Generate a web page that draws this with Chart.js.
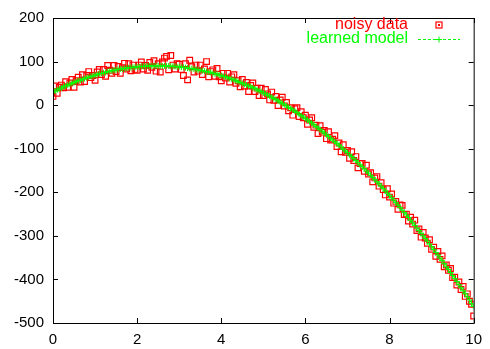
<!DOCTYPE html>
<html>
<head>
<meta charset="utf-8">
<script src="https://cdn.jsdelivr.net/npm/chart.js@4.4.0/dist/chart.umd.min.js"></script>
<style>
  html, body { margin: 0; padding: 0; background: #fff; }
  canvas { display: block; }
</style>
</head>
<body>
<canvas id="myChart" width="490" height="349"></canvas>
<script>
// x positions shared by both series
const xs = [
  0, 0.05, 0.1, 0.15, 0.2, 0.25, 0.3, 0.35, 0.4, 0.45, 0.5, 0.55, 0.6, 0.65, 0.7, 0.75, 0.8, 0.85, 0.9, 0.95,
  1, 1.05, 1.1, 1.15, 1.2, 1.25, 1.3, 1.35, 1.4, 1.45, 1.5, 1.55, 1.6, 1.65, 1.7, 1.75, 1.8, 1.85, 1.9, 1.95,
  2, 2.05, 2.1, 2.15, 2.2, 2.25, 2.3, 2.35, 2.4, 2.45, 2.5, 2.55, 2.6, 2.65, 2.7, 2.75, 2.8, 2.85, 2.9, 2.95,
  3, 3.05, 3.1, 3.15, 3.2, 3.25, 3.3, 3.35, 3.4, 3.45, 3.5, 3.55, 3.6, 3.65, 3.7, 3.75, 3.8, 3.85, 3.9, 3.95,
  4, 4.05, 4.1, 4.15, 4.2, 4.25, 4.3, 4.35, 4.4, 4.45, 4.5, 4.55, 4.6, 4.65, 4.7, 4.75, 4.8, 4.85, 4.9, 4.95,
  5, 5.05, 5.1, 5.15, 5.2, 5.25, 5.3, 5.35, 5.4, 5.45, 5.5, 5.55, 5.6, 5.65, 5.7, 5.75, 5.8, 5.85, 5.9, 5.95,
  6, 6.05, 6.1, 6.15, 6.2, 6.25, 6.3, 6.35, 6.4, 6.45, 6.5, 6.55, 6.6, 6.65, 6.7, 6.75, 6.8, 6.85, 6.9, 6.95,
  7, 7.05, 7.1, 7.15, 7.2, 7.25, 7.3, 7.35, 7.4, 7.45, 7.5, 7.55, 7.6, 7.65, 7.7, 7.75, 7.8, 7.85, 7.9, 7.95,
  8, 8.05, 8.1, 8.15, 8.2, 8.25, 8.3, 8.35, 8.4, 8.45, 8.5, 8.55, 8.6, 8.65, 8.7, 8.75, 8.8, 8.85, 8.9, 8.95,
  9, 9.05, 9.1, 9.15, 9.2, 9.25, 9.3, 9.35, 9.4, 9.45, 9.5, 9.55, 9.6, 9.65, 9.7, 9.75, 9.8, 9.85, 9.9, 9.95,
  10
];

const noisyData = [
  20, 44, 27, 41, 46, 40, 54, 41, 51, 59, 41, 56, 64, 53, 70, 54, 68, 77, 63, 68,
  57, 76, 82, 70, 82, 66, 91, 80, 73, 91, 77, 89, 73, 86, 96, 83, 95, 79, 92, 82,
  80, 92, 99, 83, 91, 80, 98, 87, 102, 78, 95, 76, 99, 108, 112, 81, 114, 92, 83, 95,
  94, 82, 68, 95, 58, 103, 88, 76, 92, 78, 92, 70, 83, 100, 65, 77, 81, 66, 84, 65,
  56, 73, 62, 73, 53, 65, 70, 50, 56, 42, 59, 44, 52, 31, 45, 51, 31, 39, 22, 39,
  22, 36, 26, 12, 30, 11, 20, -1, 12, 18, -2, 6, -13, -6, -23, -8, -6, -26, -15, -29,
  -23, -44, -34, -29, -51, -46, -65, -47, -62, -58, -77, -61, -80, -78, -70, -95, -87, -107, -91, -108,
  -104, -122, -107, -127, -118, -144, -134, -134, -152, -138, -158, -155, -176, -167, -164, -186, -178, -194, -206, -192,
  -211, -204, -225, -221, -239, -229, -230, -251, -250, -266, -257, -273, -264, -288, -284, -303, -292, -305, -317, -309,
  -331, -326, -347, -336, -354, -346, -371, -367, -379, -375, -396, -395, -413, -406, -423, -416, -439, -433, -450, -457,
  -484
];

const learnedModel = [
  30, 32, 35, 37, 39, 42, 44, 46, 48, 50, 52, 54, 56, 57, 59, 61, 63, 64, 66, 67,
  69, 70, 72, 73, 74, 75, 77, 78, 79, 80, 81, 82, 83, 83, 84, 85, 86, 86, 87, 87,
  88, 88, 89, 89, 89, 90, 90, 90, 90, 90, 90, 90, 90, 90, 90, 90, 89, 89, 89, 88,
  88, 87, 87, 86, 85, 84, 84, 83, 82, 81, 80, 79, 78, 77, 76, 75, 73, 72, 71, 69,
  68, 66, 65, 63, 61, 60, 58, 56, 54, 52, 50, 48, 46, 44, 42, 40, 38, 35, 33, 31,
  28, 26, 23, 21, 18, 15, 13, 10, 7, 4, 1, -2, -5, -8, -11, -14, -17, -21, -24, -27,
  -31, -34, -38, -41, -45, -49, -52, -56, -60, -64, -68, -72, -76, -80, -84, -88, -92, -96, -101, -105,
  -109, -114, -118, -123, -127, -132, -137, -141, -146, -151, -156, -161, -166, -171, -176, -181, -186, -191, -197, -202,
  -207, -213, -218, -224, -229, -235, -241, -246, -252, -258, -264, -270, -276, -282, -288, -294, -300, -306, -312, -319,
  -325, -331, -338, -344, -351, -357, -364, -371, -377, -384, -391, -398, -405, -412, -419, -426, -433, -440, -447, -455,
  -462
];

const xTicks = [0, 2, 4, 6, 8, 10];
const yTicks = [-500, -400, -300, -200, -100, 0, 100, 200];
const legendLabels = ['noisy data', 'learned model'];

const RED = '#ff0000';
const GREEN = '#00ff00';
const FONT = '"Liberation Sans", Arial, Helvetica, sans-serif';

// frame with inward ticks on all four sides + gnuplot style key
const gnuFrame = {
  id: 'gnuFrame',
  afterDatasetsDraw(chart) {
    const { ctx, chartArea: a, scales: { x, y } } = chart;
    ctx.save();
    ctx.strokeStyle = '#000';
    ctx.lineWidth = 1;
    ctx.strokeRect(a.left + 0.5, a.top + 0.5, a.right - a.left, a.bottom - a.top);
    ctx.beginPath();
    xTicks.forEach(v => {
      const px = Math.round(x.getPixelForValue(v)) + 0.5;
      ctx.moveTo(px, a.bottom); ctx.lineTo(px, a.bottom - 5);
      ctx.moveTo(px, a.top); ctx.lineTo(px, a.top + 5);
    });
    yTicks.forEach(v => {
      const py = Math.round(y.getPixelForValue(v)) + 0.5;
      ctx.moveTo(a.left, py); ctx.lineTo(a.left + 5, py);
      ctx.moveTo(a.right, py); ctx.lineTo(a.right - 5, py);
    });
    ctx.stroke();

    // key
    ctx.font = '16px ' + FONT;
    ctx.textAlign = 'right';
    ctx.textBaseline = 'middle';
    ctx.fillStyle = RED;
    ctx.fillText(legendLabels[0], 408, 25);
    ctx.fillStyle = GREEN;
    ctx.fillText(legendLabels[1], 408, 39);

    ctx.strokeStyle = RED;
    ctx.lineWidth = 1.2;
    ctx.strokeRect(436, 22, 6, 6);
    ctx.fillStyle = RED;
    ctx.fillRect(438, 24, 2, 2);

    ctx.strokeStyle = GREEN;
    ctx.lineWidth = 1;
    ctx.setLineDash([3, 2]);
    ctx.beginPath();
    ctx.moveTo(418, 39.5); ctx.lineTo(460, 39.5);
    ctx.stroke();
    ctx.setLineDash([]);
    ctx.beginPath();
    ctx.moveTo(436, 39.5); ctx.lineTo(442, 39.5);
    ctx.moveTo(439, 36.5); ctx.lineTo(439, 42.5);
    ctx.stroke();
    ctx.restore();
  }
};

const ctx = document.getElementById('myChart').getContext('2d');
new Chart(ctx, {
  type: 'scatter',
  data: {
    datasets: [
      {
        label: legendLabels[0],
        data: xs.map((x, i) => ({ x: x, y: noisyData[i] })),
        pointStyle: 'rect',
        pointRadius: 4,
        pointBorderWidth: 1.2,
        pointBorderColor: RED,
        pointBackgroundColor: 'rgba(0,0,0,0)',
        showLine: false,
        order: 2,
      },
      {
        label: legendLabels[1],
        data: xs.map((x, i) => ({ x: x, y: learnedModel[i] })),
        showLine: true,
        borderColor: GREEN,
        borderWidth: 1,
        borderDash: [3, 2],
        pointStyle: 'cross',
        pointRadius: 3,
        pointBorderWidth: 1,
        pointBorderColor: GREEN,
        order: 1,
      },
    ],
  },
  options: {
    responsive: false,
    animation: false,
    events: [],
    layout: { padding: { top: 12, right: 11, left: 0, bottom: 0 } },
    plugins: {
      legend: { display: false },
      tooltip: { enabled: false },
    },
    scales: {
      x: {
        type: 'linear',
        min: 0,
        max: 10,
        grid: { display: false, drawTicks: false },
        border: { display: false },
        afterBuildTicks: s => { s.ticks = xTicks.map(v => ({ value: v })); },
        afterFit: s => { s.height = 26; },
        ticks: {
          color: '#000',
          padding: 8,
          maxRotation: 0,
          font: { family: FONT, size: 15 },
        },
      },
      y: {
        type: 'linear',
        min: -500,
        max: 200,
        grid: { display: false, drawTicks: false },
        border: { display: false },
        afterBuildTicks: s => { s.ticks = yTicks.map(v => ({ value: v })); },
        afterFit: s => { s.width = 53; },
        ticks: {
          color: '#000',
          padding: 9,
          font: { family: FONT, size: 15 },
        },
      },
    },
  },
  plugins: [gnuFrame],
});
</script>
</body>
</html>
